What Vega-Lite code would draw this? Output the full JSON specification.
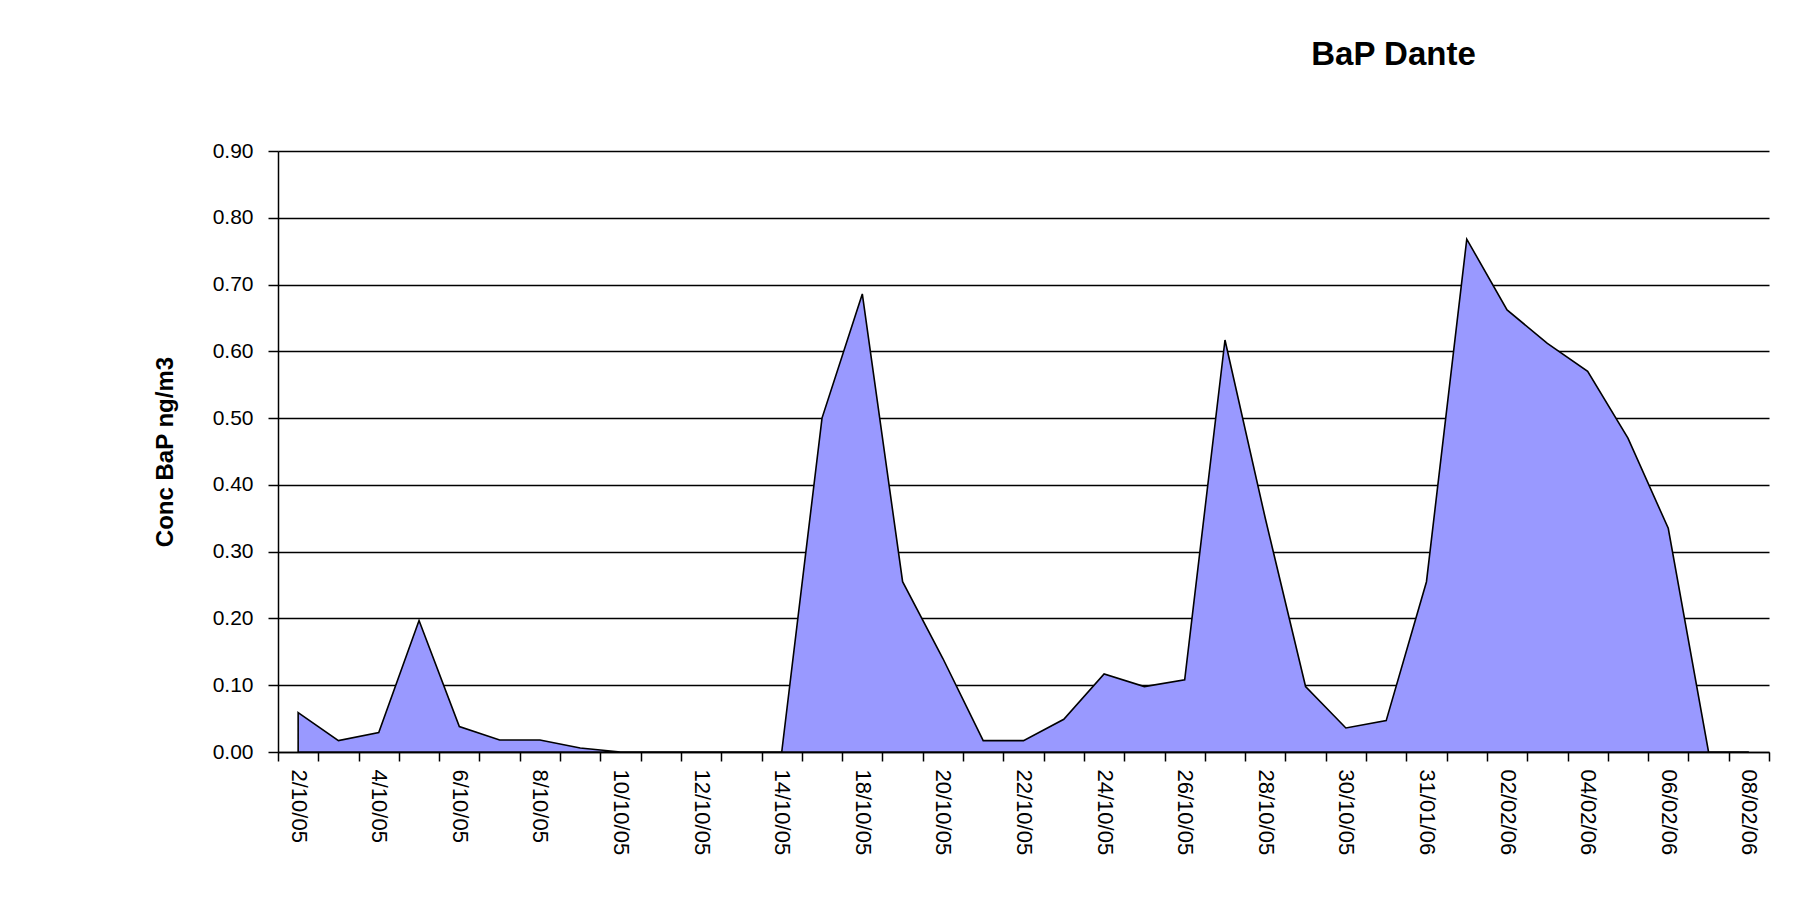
{
  "$schema": "https://vega.github.io/schema/vega-lite/v6.json",
  "width": 1491,
  "height": 601,
  "autosize": {"type": "none"},
  "padding": {"left": 278, "top": 151, "right": 38, "bottom": 162},
  "background": "white",
  "title": {"text": "BaP Dante", "font": "Liberation Sans", "fontSize": 33, "fontWeight": "bold", "color": "#000", "anchor": "middle", "dx": 370, "offset": 68},
  "data": {"values": [
    {"date": "2/10/05", "bap": 0.059},
    {"date": "3/10/05", "bap": 0.017},
    {"date": "4/10/05", "bap": 0.029},
    {"date": "5/10/05", "bap": 0.197},
    {"date": "6/10/05", "bap": 0.038},
    {"date": "7/10/05", "bap": 0.018},
    {"date": "8/10/05", "bap": 0.018},
    {"date": "9/10/05", "bap": 0.006},
    {"date": "10/10/05", "bap": 0},
    {"date": "11/10/05", "bap": 0},
    {"date": "12/10/05", "bap": 0},
    {"date": "13/10/05", "bap": 0},
    {"date": "14/10/05", "bap": 0},
    {"date": "16/10/05", "bap": 0.5},
    {"date": "18/10/05", "bap": 0.686},
    {"date": "19/10/05", "bap": 0.255},
    {"date": "20/10/05", "bap": 0.14},
    {"date": "21/10/05", "bap": 0.017},
    {"date": "22/10/05", "bap": 0.017},
    {"date": "23/10/05", "bap": 0.049},
    {"date": "24/10/05", "bap": 0.117},
    {"date": "25/10/05", "bap": 0.098},
    {"date": "26/10/05", "bap": 0.108},
    {"date": "27/10/05", "bap": 0.617},
    {"date": "28/10/05", "bap": 0.35},
    {"date": "29/10/05", "bap": 0.098},
    {"date": "30/10/05", "bap": 0.036},
    {"date": "30/01/06", "bap": 0.047},
    {"date": "31/01/06", "bap": 0.255},
    {"date": "01/02/06", "bap": 0.768},
    {"date": "02/02/06", "bap": 0.662},
    {"date": "03/02/06", "bap": 0.612},
    {"date": "04/02/06", "bap": 0.57},
    {"date": "05/02/06", "bap": 0.47},
    {"date": "06/02/06", "bap": 0.335},
    {"date": "07/02/06", "bap": 0},
    {"date": "08/02/06", "bap": 0}
  ]},
  "mark": {"type": "area", "fill": "#9999FF", "fillOpacity": 1, "stroke": "#000", "strokeWidth": 1.6, "interpolate": "linear"},
  "encoding": {
    "x": {
      "field": "date", "type": "ordinal", "sort": null, "bandPosition": 0.5,
      "scale": {"type": "band", "paddingInner": 0, "paddingOuter": 0},
      "axis": {
        "title": null, "labelAngle": 90, "labelFont": "Liberation Sans", "labelFontSize": 22, "labelColor": "#000",
        "labelPadding": 8, "tickSize": 9, "tickColor": "#000", "tickWidth": 1.5, "domainColor": "#000", "domainWidth": 1.5,
        "tickBand": "extent", "grid": false, "labelOverlap": false,
        "labelExpr": "indexof(['2/10/05','4/10/05','6/10/05','8/10/05','10/10/05','12/10/05','14/10/05','18/10/05','20/10/05','22/10/05','24/10/05','26/10/05','28/10/05','30/10/05','31/01/06','02/02/06','04/02/06','06/02/06','08/02/06'], datum.value) >= 0 ? datum.label : ''"
      }
    },
    "y": {
      "field": "bap", "type": "quantitative", "stack": null,
      "scale": {"domain": [0, 0.9], "nice": false},
      "axis": {
        "title": "Conc BaP ng/m3", "values": [0, 0.1, 0.2, 0.3, 0.4, 0.5, 0.6, 0.7, 0.8, 0.9], "format": ".2f",
        "grid": true, "gridColor": "#000", "gridWidth": 1.5, "gridOpacity": 1,
        "tickSize": 10, "tickColor": "#000", "tickWidth": 1.5, "domainColor": "#000", "domainWidth": 1.5,
        "labelFont": "Liberation Sans", "labelFontSize": 21, "labelColor": "#000", "labelPadding": 15,
        "titleFont": "Liberation Sans", "titleFontSize": 24, "titleFontWeight": "bold", "titleColor": "#000",
        "titleX": -101, "titleBaseline": "bottom"
      }
    }
  },
  "config": {"view": {"stroke": null}}
}
